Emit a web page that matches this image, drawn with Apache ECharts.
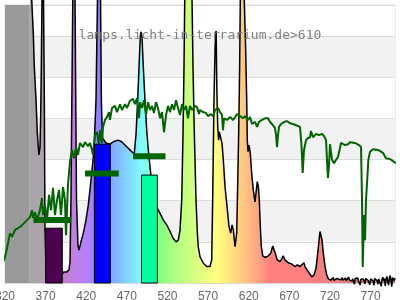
<!DOCTYPE html>
<html><head><meta charset="utf-8">
<script src="https://cdn.jsdelivr.net/npm/echarts@6/dist/echarts.min.js"></script>
<style>html,body{margin:0;padding:0;background:#fff}#c{width:400px;height:300px}</style>
</head><body><div id="c"></div>
<script>
const TITLE = 'lamps.licht-in-terrarium.de>610';
const X_MIN = 320, X_MAX = 800, X_STEP = 50;
const Y_MAX = 6.75;
const uvBand = [320, 350.5];

const specNm = [350.8,352.9,354.8,356.1,358.2,359.8,361.0,361.8,363.1,363.9,364.7,365.5,366.2,367.4,368.4,369.2,370.5,381.5,390.2,392.6,396.3,398.8,
400.0,401.2,402.5,403.4,404.3,406.2,407.1,408.0,409.8,411.1,413.5,416.4,419.7,422.5,425.2,427.7,429.5,432.0,433.8,435.9,437.6,438.6,440.0,444.3,449.2,
453.3,459.4,463.6,469.8,475.9,479.1,481.3,483.3,485.3,486.5,487.4,488.6,490.2,492.3,494.4,496.4,498.5,500.9,504.6,507.4,510.8,514.8,519.0,523.1,527.1,
530.5,533.3,535.4,537.5,539.1,540.3,541.2,545.2,550.2,551.4,553.0,555.1,556.9,557.9,560.0,564.1,568.3,572.3,574.4,575.6,577.2,578.5,579.3,579.9,580.6,
581.8,583.0,583.8,585.5,587.1,588.7,590.8,592.9,595.7,597.8,599.4,601.0,603.1,605.2,606.4,607.6,608.8,609.6,611.7,614.5,616.2,617.5,618.2,619.1,620.3,
621.2,621.9,623.6,625.6,627.7,628.9,630.5,631.8,633.0,634.2,635.5,637.2,640.0,644.1,647.0,649.5,651.1,652.7,655.1,658.5,660.9,662.5,664.6,668.7,672.9,
676.9,679.8,683.1,685.2,688.0,689.2,691.3,694.5,697.5,700.3,702.8,704.4,706.1,707.7,709.0,710.2,711.8,713.9,716.0,
718,719,720,721,722,723,724,725,726,727,728,729,730,731,732,733,734,735,736,737,738,739,740,741,742,743,744,745,746,747,748,749,
750,751,752,753,754,755,756,757,758,759,760,761,762,763,764,765,766,767,768,769,770,771,772,773,774,775,776,777,778,779,
780,781,782,783,784,785,786,787,788,789,790,791,792,793,794,795,796,797,798,799,800];
const specVal = [7.60,6.87,6.07,5.24,4.44,3.64,3.30,3.11,3.30,4.03,5.24,6.87,7.84,6.87,4.44,1.29,0.36,0.22,0.22,0.27,0.27,0.32,
0.51,2.01,4.93,6.87,7.84,6.87,4.44,2.01,0.92,0.80,1.00,1.21,1.53,1.89,2.38,2.86,3.23,4.44,6.87,7.84,6.87,4.44,3.52,3.40,3.37,
3.43,3.47,3.43,3.31,3.19,3.13,3.63,4.44,5.41,5.98,6.10,5.98,5.25,4.44,3.71,3.23,2.82,2.38,2.01,1.82,1.69,1.53,1.41,1.25,1.08,
1.00,1.04,1.29,2.01,3.64,5.24,6.87,8.33,6.87,5.24,3.64,2.01,1.16,0.87,0.64,0.48,0.40,0.40,0.56,2.01,4.44,5.66,6.06,6.12,4.85,
3.79,3.47,3.67,3.63,3.39,2.99,2.34,1.93,1.37,1.21,1.41,1.29,0.88,1.21,2.42,3.63,5.25,6.87,8.33,6.87,5.66,4.44,3.47,3.19,3.35,
3.31,3.15,2.66,2.26,1.97,2.01,2.46,2.34,2.01,1.37,0.88,0.66,0.62,0.66,0.72,0.90,0.92,0.72,0.56,0.52,0.60,0.66,0.56,0.49,0.46,
0.40,0.44,0.40,0.44,0.49,0.40,0.33,0.24,0.15,0.19,0.36,0.64,0.96,1.25,1.21,1.04,0.72,0.40,0.19,
0.10,0.08,0.12,0.07,0.10,0.09,0.13,0.06,0.10,0.08,0.11,0.07,0.12,0.09,0.06,0.11,0.08,0.13,0.07,0.10,0.09,0.12,0.06,0.10,0.08,0.14,0.07,0.09,0.11,0.05,0.10,0.08,
-0.03,0.11,0.07,0.09,0.12,0.06,0.10,-0.05,0.09,0.13,0.07,0.10,0.08,-0.02,0.11,0.07,0.14,0.06,0.09,-0.04,0.10,0.08,0.12,0.05,-0.06,0.11,0.08,0.13,0.06,-0.03,
0.10,0.12,0.07,-0.08,0.09,0.14,0.06,0.11,-0.07,0.10,0.16,0.05,-0.05,0.12,0.18,0.08,-0.09,0.13,0.17,0.06,0.12];

const sunNm = [313.8,316.3,320,322.5,326.2,328.6,332.3,336.0,338.5,342.2,344.6,348.3,350.8,353.2,354.5,356.9,359.4,363.1,365.5,366.8,369.2,371.7,374.2,376.6,
379.1,381.5,384.0,386.5,388.9,391.4,393.8,395.1,397.5,400,402.5,404.9,407.4,409.8,412.3,416.0,418.5,422.2,424.6,427.1,428.3,430.8,433.2,435.7,436.9,439.4,
440.6,443.1,445.5,448.0,449.2,451.7,455.4,457.8,461.5,464.0,467.7,470.2,473.8,477.5,480.0,482.5,484.9,486.2,488.6,491.1,493.5,496.0,498.5,500.9,503.4,
505.8,508.3,510.8,513.2,515.7,518.2,520.6,523.1,525.5,528.0,530.5,532.9,535.4,537.9,540.3,542.8,545.2,547.7,550.2,553.8,556.3,558.8,560.0,563.7,567.4,
569.9,573.6,576.1,578.5,582.2,584.6,587.1,588.3,589.6,593.3,597.0,600.7,603.2,605.6,609.3,613.0,615.4,619.1,621.6,624.0,627.7,630.2,632.6,636.3,640.0,
643.7,646.2,649.9,652.3,653.6,654.8,656.0,657.3,659.7,663.4,667.1,670.8,674.5,678.2,683.1,684.9,686.4,688.0,690.5,692.9,695.4,696.6,699.1,702.8,706.5,
710.2,712.6,715.1,716.3,717.5,718.8,720.0,721.2,722.5,724.9,727.4,729.8,732.3,733.5,738.5,742.2,744.6,750.8,755.7,758.2,759.4,760.3,761.9,763.1,764.3,
765.6,767.2,769.2,772.9,779.1,785.2,788.9,793.8,797.5,801.2];
const sunVal = [0.32,0.44,0.63,0.85,1.21,1.12,1.29,1.33,1.36,1.43,1.46,1.55,1.60,1.77,1.58,1.72,1.53,1.77,2.06,1.65,1.89,1.53,2.14,1.77,
2.31,1.65,2.01,2.26,1.65,2.33,2.01,1.16,2.38,2.94,3.23,3.03,3.30,3.11,3.40,3.30,3.42,3.32,3.40,3.23,3.11,3.59,3.66,3.35,3.71,3.40,
3.79,3.96,4.03,4.15,3.96,4.25,4.30,4.15,4.34,4.20,4.34,4.25,4.42,4.47,4.34,4.49,4.00,4.39,4.25,4.44,4.08,4.39,4.20,4.30,4.13,
4.39,4.25,4.00,4.15,3.66,4.08,4.30,4.15,4.34,4.20,4.44,4.25,4.08,4.34,4.20,4.30,4.00,4.30,4.20,4.30,4.27,4.10,4.20,4.15,4.13,
4.05,4.10,4.05,4.20,4.25,4.15,4.08,3.71,4.00,3.96,4.03,3.96,4.03,4.10,4.05,4.00,4.05,3.96,4.03,3.86,3.91,3.79,3.91,3.96,4.00,
4.00,3.91,3.83,3.76,3.59,3.30,3.59,3.79,3.86,3.91,3.93,3.88,3.86,3.83,3.79,3.35,2.67,3.23,3.47,3.52,3.54,3.69,3.54,3.62,3.59,
3.62,3.57,3.47,2.99,2.55,2.86,3.37,3.40,2.99,2.91,2.99,3.06,3.28,3.40,3.35,3.37,3.42,3.40,3.35,3.30,2.01,0.39,1.65,1.04,2.01,
2.43,2.99,3.18,3.25,3.23,3.16,3.03,3.01,2.96,2.91];

const barStart = [370, 430, 488];
const barEnd = [390.5, 449.6, 507.5];
const barVal = [1.33, 3.37, 2.62];
const barColors = ['#4d004d', '#0000ff', '#00ffa0'];

const segStart = [355, 418.5, 477.5];
const segEnd = [401.2, 460, 517.5];
const segVal = [1.53, 2.66, 3.08];

function wlColor(w) {
  if (w < 380) return '#aba4aa';
  let r = 0, g = 0, b = 0;
  if (w < 440) { r = -(w - 440) / 60; b = 1; }
  else if (w < 490) { g = (w - 440) / 50; b = 1; }
  else if (w < 510) { g = 1; b = -(w - 510) / 20; }
  else if (w < 580) { r = (w - 510) / 70; g = 1; }
  else if (w < 645) { r = 1; g = -(w - 645) / 65; }
  else { r = 1; }
  let f = 1;
  if (w < 420) f = 0.3 + 0.7 * (w - 380) / 40;
  else if (w > 700) f = 0.3 + 0.7 * Math.max(0, 780 - w) / 80;
  const c = v => Math.round(255 * (0.5 + 0.5 * (v > 0 ? Math.pow(v * f, 0.8) : 0)));
  return 'rgb(' + c(r) + ',' + c(g) + ',' + c(b) + ')';
}
const first = specNm[0], last = specNm[specNm.length - 1];
const stops = [{offset: 0, color: wlColor(first)}, {offset: (379.9 - first) / (last - first), color: wlColor(379)}];
for (let w = 380; w <= last; w += 4) stops.push({offset: (w - first) / (last - first), color: wlColor(w)});

const chart = echarts.init(document.getElementById('c'), null, {renderer: 'canvas'});
chart.setOption({
  animation: false,
  title: {
    text: TITLE, left: 'center', top: 24, z: 10,
    textStyle: {fontFamily: 'DejaVu Sans Mono', fontSize: 13, fontWeight: 'normal', color: '#808080'}
  },
  grid: {left: 5, right: 5, top: 5, bottom: 17, containLabel: false, outerBoundsMode: 'none',
    show: true, borderColor: '#dadada', borderWidth: 1, backgroundColor: 'transparent'},
  xAxis: {
    type: 'value', min: X_MIN, max: X_MAX, interval: X_STEP,
    axisLine: {show: false}, axisTick: {show: false}, splitLine: {show: false},
    axisLabel: {showMaxLabel: false, hideOverlap: false, color: '#666', fontFamily: 'Liberation Sans', fontSize: 12, margin: 8}
  },
  yAxis: {
    type: 'value', min: 0, max: Y_MAX, interval: 1,
    axisLine: {show: false}, axisTick: {show: false}, axisLabel: {show: false},
    splitLine: {lineStyle: {color: '#dcdcdc'}},
    splitArea: {show: true, areaStyle: {color: ['#ffffff', '#f2f2f2']}}
  },
  series: [
    {
      type: 'custom', z: 1, silent: true,
      data: [[uvBand[0], uvBand[1]]],
      renderItem: (p, api) => {
        const a = api.coord([api.value(0), Y_MAX]);
        const b = api.coord([api.value(1), 0]);
        return {type: 'rect', shape: {x: a[0], y: a[1], width: b[0] - a[0], height: b[1] - a[1]}, style: {fill: '#9a9a9a'}};
      }
    },
    {
      type: 'line', z: 2, clip: false, showSymbol: false, symbol: 'none',
      data: specNm.map((x, i) => [x, specVal[i]]),
      lineStyle: {color: '#000', width: 1.5},
      areaStyle: {opacity: 1, color: {type: 'linear', x: 0, y: 0, x2: 1, y2: 0, colorStops: stops}}
    },
    {
      type: 'line', z: 3, clip: false, showSymbol: false, symbol: 'none',
      data: sunNm.map((x, i) => [x, sunVal[i]]),
      lineStyle: {color: '#006400', width: 2}
    },
    {
      type: 'custom', z: 4,
      data: barStart.map((s, i) => [s, barEnd[i], barVal[i]]),
      encode: {x: [0, 1], y: 2},
      renderItem: (p, api) => {
        const a = api.coord([api.value(0), api.value(2)]);
        const b = api.coord([api.value(1), 0]);
        return {type: 'rect', shape: {x: a[0], y: a[1], width: b[0] - a[0], height: b[1] - a[1]},
          style: {fill: barColors[p.dataIndex], stroke: '#000', lineWidth: 1}};
      }
    },
    {
      type: 'custom', z: 5,
      data: segStart.map((s, i) => [s, segEnd[i], segVal[i]]),
      encode: {x: [0, 1], y: 2},
      renderItem: (p, api) => {
        const a = api.coord([api.value(0), api.value(2)]);
        const b = api.coord([api.value(1), api.value(2)]);
        return {type: 'rect', shape: {x: a[0], y: a[1] - 3, width: b[0] - a[0], height: 6}, style: {fill: '#006400'}};
      }
    }
  ]
});
</script></body></html>
